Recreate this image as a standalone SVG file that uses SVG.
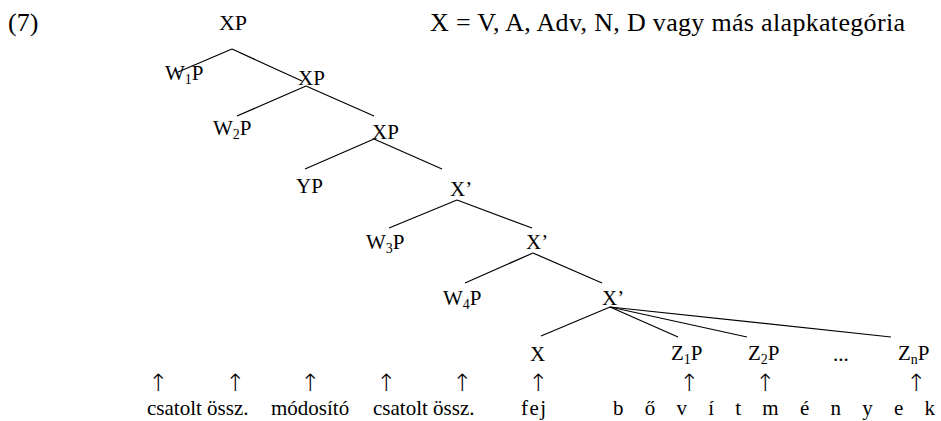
<svg xmlns="http://www.w3.org/2000/svg" width="941" height="421" viewBox="0 0 941 421">
<style>
text{font-family:"Liberation Serif","Times New Roman",serif;font-size:21px;fill:#000}
.big{font-size:26px}
.sub{font-size:14px}
.c{text-anchor:middle}
.arr{font-family:"DejaVu Sans",sans-serif;font-size:24px;font-weight:200;text-anchor:middle}
line{stroke:#000;stroke-width:1.2}
</style>
<rect width="941" height="421" fill="#fff"/>
<text class="big" x="8" y="31">(7)</text>
<text class="big" x="430" y="31" textLength="475" lengthAdjust="spacing">X = V, A, Adv, N, D vagy más alapkategória</text>
<g id="n-xp1"><text x="233" y="30" class="c" style="font-size:22px">XP</text></g>
<g id="n-w1p"><text x="165" y="80">W<tspan class="sub" dy="4">1</tspan><tspan dy="-4">P</tspan></text></g>
<g id="n-xp2"><text x="298" y="85">XP</text></g>
<g id="n-w2p"><text x="213" y="135">W<tspan class="sub" dy="4">2</tspan><tspan dy="-4">P</tspan></text></g>
<g id="n-xp3"><text x="372" y="139">XP</text></g>
<g id="n-yp"><text x="296" y="193">YP</text></g>
<g id="n-xb1"><text x="450" y="196">X’</text></g>
<g id="n-w3p"><text x="366" y="249">W<tspan class="sub" dy="4">3</tspan><tspan dy="-4">P</tspan></text></g>
<g id="n-xb2"><text x="526" y="249">X’</text></g>
<g id="n-w4p"><text x="443" y="305">W<tspan class="sub" dy="4">4</tspan><tspan dy="-4">P</tspan></text></g>
<g id="n-xb3"><text x="602" y="305">X’</text></g>
<g id="n-x"><text x="530" y="361">X</text></g>
<g id="n-z1p"><text x="671" y="360">Z<tspan class="sub" dy="4">1</tspan><tspan dy="-4">P</tspan></text></g>
<g id="n-z2p"><text x="748" y="360">Z<tspan class="sub" dy="4">2</tspan><tspan dy="-4">P</tspan></text></g>
<g id="n-dots"><text x="833" y="361">...</text></g>
<g id="n-znp"><text x="898" y="360">Z<tspan class="sub" dy="4">n</tspan><tspan dy="-4">P</tspan></text></g>
<g id="connectors">
<line x1="232" y1="49" x2="178" y2="72"/>
<line x1="232" y1="49" x2="302" y2="81"/>
<line x1="306" y1="86" x2="237" y2="116"/>
<line x1="306" y1="86" x2="374" y2="116"/>
<line x1="374" y1="139" x2="305" y2="169"/>
<line x1="374" y1="139" x2="442" y2="169"/>
<line x1="457" y1="200" x2="389" y2="228"/>
<line x1="457" y1="200" x2="532" y2="228"/>
<line x1="533" y1="253" x2="465" y2="283"/>
<line x1="533" y1="253" x2="602" y2="283"/>
<line x1="610" y1="307" x2="541" y2="336"/>
<line x1="610" y1="307" x2="678" y2="337"/>
<line x1="610" y1="307" x2="747" y2="337"/>
<line x1="610" y1="307" x2="891" y2="337"/>
</g>
<g id="arrows">
<text class="arr" x="158" y="391">↑</text>
<text class="arr" x="235" y="391">↑</text>
<text class="arr" x="310" y="391">↑</text>
<text class="arr" x="386" y="391">↑</text>
<text class="arr" x="462" y="391">↑</text>
<text class="arr" x="538" y="391">↑</text>
<text class="arr" x="689" y="391">↑</text>
<text class="arr" x="765" y="391">↑</text>
<text class="arr" x="916" y="391">↑</text>
</g>
<g id="labels">
<text x="147" y="415">csatolt össz.</text>
<text x="271" y="415">módosító</text>
<text x="373" y="415">csatolt össz.</text>
<text x="521" y="415" textLength="25" lengthAdjust="spacing">fej</text>
<text x="613" y="415" textLength="322" lengthAdjust="spacing">bővítmények</text>
</g>
</svg>
